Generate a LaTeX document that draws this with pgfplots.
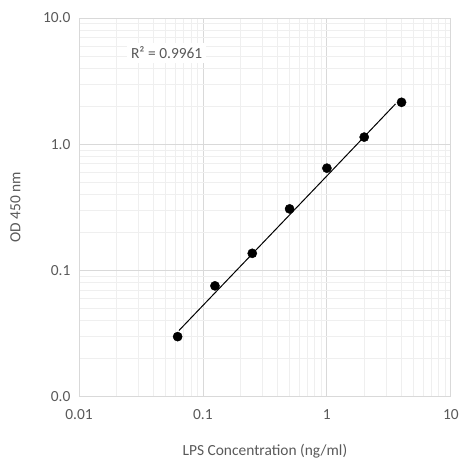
\documentclass[border=0pt]{standalone}
\usepackage{pgfplots}
\pgfplotsset{compat=1.18}
\usepackage{fontspec}
\setmainfont{Carlito}
\definecolor{txt}{HTML}{595959}
\definecolor{majgrid}{HTML}{D9D9D9}
\definecolor{mingrid}{HTML}{EFEFEF}
\begin{document}
\begin{tikzpicture}
\begin{axis}[
    scale only axis,
    width=372bp, height=379bp,
    xmode=log, ymode=log,
    xmin=0.01, xmax=10, ymin=0.01, ymax=10,
    xtick={0.01,0.1,1,10}, ytick={0.01,0.1,1,10},
    xticklabels={0.01,0.1,1,10},
    yticklabels={0.0,0.1,1.0,10.0},
    major tick length=0pt, minor tick length=0pt,
    grid=both,
    major grid style={majgrid, line width=0.8bp},
    minor grid style={mingrid, line width=0.8bp},
    axis line style={majgrid, line width=0.8bp},
    tick label style={font=\fontsize{15.5}{18}\selectfont, text=txt},
    xticklabel style={yshift=-9bp},
    yticklabel style={xshift=-5bp},
    label style={font=\fontsize{15.5}{18}\selectfont, text=txt},
    xlabel={LPS Concentration (ng/ml)},
    ylabel={OD 450 nm},
    xlabel style={at={(0.5,0)}, anchor=north, yshift=-44bp},
    ylabel style={at={(0,0.5)}, anchor=south, yshift=55bp},
]
% power trend line
\addplot[black, line width=1bp, no marks] coordinates {
  (0.064,0.0335) (1,0.562) (3.58,2.09)
};
% measured points
\addplot[only marks, mark=*, mark size=4.6bp, black] coordinates {
  (0.0625,0.030) (0.125,0.0757) (0.25,0.137) (0.5,0.308)
  (1,0.647) (2,1.14) (4,2.15)
};
\node[fill=white, text=txt, font=\fontsize{15.5}{18}\selectfont, inner sep=4bp] at (axis cs:0.051,5.3) {R² = 0.9961};
\end{axis}
\path[use as bounding box] (current axis.south west) ++(-79bp,-62bp) rectangle ++(462bp,459bp);
\end{tikzpicture}
\end{document}
